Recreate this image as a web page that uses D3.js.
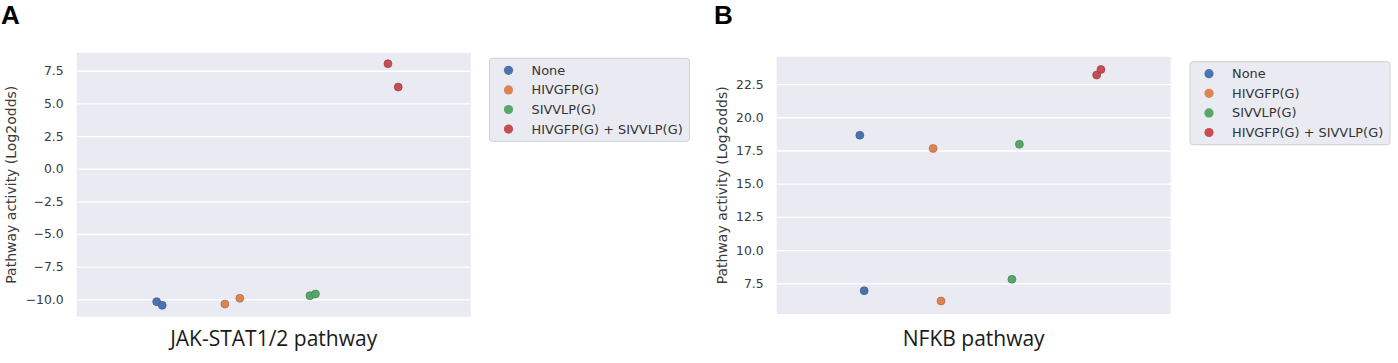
<!DOCTYPE html>
<html>
<head>
<meta charset="utf-8">
<script src="https://cdn.jsdelivr.net/npm/d3@7"></script>
<style>
  body { margin: 0; background: #fff; }
  .tick text { font-family: "DejaVu Sans", sans-serif; fill: #3a3a3a; }
</style>
</head>
<body>
<svg id="fig" width="1398" height="363"></svg>
<script>
// ----- data -----
const hues = ["None", "HIVGFP(G)", "SIVVLP(G)", "HIVGFP(G) + SIVVLP(G)"];
const hueColors = ["#4C72B0", "#DD8452", "#55A868", "#C44E52"];

// two samples per hue, per pathway
const jakValues = [[-10.18, -10.46], [-10.36, -9.92], [-9.72, -9.59], [8.04, 6.25]];
const jakJitter = [[0.003, 0.017], [-0.024, 0.014], [-0.008, 0.006], [-0.010, 0.016]];
const jakTicks = [-10, -7.5, -5, -2.5, 0, 2.5, 5, 7.5];

const nfkbValues = [[18.65, 6.94], [17.65, 6.17], [17.97, 7.80], [23.18, 23.60]];
const nfkbJitter = [[0.011, 0.022], [-0.003, 0.017], [0.016, -0.003], [0.012, 0.023]];
const nfkbTicks = [7.5, 10, 12.5, 15, 17.5, 20, 22.5];

const yLabel = "Pathway activity (Log2odds)";

const svg = d3.select("svg#fig");

function panel(opts) {
    const w = 394, h = opts.height;
    const g = svg.append("g")
        .attr("transform", "translate(" + opts.left + "," + opts.top + ")");

    // panel letter
    svg.append("text")
        .attr("x", opts.letterX).attr("y", 24)
        .attr("font-family", "Liberation Sans, Arial, sans-serif")
        .attr("font-weight", "bold")
        .attr("font-size", 26)
        .text(opts.letter);

    g.append("rect")
        .attr("width", w).attr("height", h)
        .attr("fill", "#EAEAF2");

    const y = d3.scaleLinear().domain(opts.domain).range([h, 0]);
    const x = d3.scaleBand().domain([opts.name]).range([0, w]);
    const hx = d3.scaleBand().domain(hues)
        .range([x(opts.name) + 0.1 * x.bandwidth(), x(opts.name) + 0.9 * x.bandwidth()]);

    const yAxis = d3.axisLeft(y)
        .tickValues(opts.ticks)
        .tickFormat(d3.format(".1f"))
        .tickSize(-w)
        .tickPadding(13);

    const ax = g.append("g").call(yAxis);
    ax.select(".domain").remove();
    ax.selectAll(".tick line").attr("stroke", "#fff").attr("stroke-width", 1.3);
    ax.selectAll(".tick text").attr("font-size", 12.4);

    // points
    const pts = [];
    opts.values.forEach((vals, i) => {
        vals.forEach((v, j) => pts.push({hue: hues[i], color: hueColors[i], v: v, jit: opts.jitter[i][j]}));
    });
    g.selectAll("circle.pt")
        .data(pts)
        .join("circle")
        .attr("class", "pt")
        .attr("cx", d => hx(d.hue) + hx.bandwidth() / 2 + d.jit * x.bandwidth())
        .attr("cy", d => y(d.v))
        .attr("r", 4)
        .attr("fill", d => d.color)
        .attr("stroke", d => d3.color(d.color).darker(0.8))
        .attr("stroke-width", 0.6);

    // axis titles
    svg.append("text")
        .attr("transform", "translate(" + opts.yLabelX + "," + (opts.top + h / 2) + ") rotate(-90)")
        .attr("text-anchor", "middle")
        .attr("font-family", "DejaVu Sans, sans-serif")
        .attr("font-size", 14)
        .attr("fill", "#3a3a3a")
        .text(yLabel);

    svg.append("text")
        .attr("x", opts.left + w / 2).attr("y", 346)
        .attr("text-anchor", "middle")
        .attr("font-family", "Open Sans, sans-serif")
        .attr("font-size", 21)
        .attr("fill", "#1a1a1a")
        .text(opts.name);

    // legend
    const lg = svg.append("g")
        .attr("transform", "translate(" + opts.legendX + "," + opts.legendY + ")");
    lg.append("rect")
        .attr("width", 200).attr("height", 83)
        .attr("rx", 3)
        .attr("fill", "#EAEAF2")
        .attr("stroke", "#cfcfd6");
    const row = lg.selectAll("g.row")
        .data(hues)
        .join("g")
        .attr("class", "row")
        .attr("transform", (d, i) => "translate(0," + (12 + i * 19.6) + ")");
    row.append("circle")
        .attr("cx", 19).attr("r", 4.6)
        .attr("fill", (d, i) => hueColors[i]);
    row.append("text")
        .attr("x", 42).attr("y", 4.5)
        .attr("font-family", "DejaVu Sans, sans-serif")
        .attr("font-size", 12.9)
        .attr("fill", "#333")
        .text(d => d);
}

panel({letter: "A", letterX: 1, name: "JAK-STAT1/2 pathway",
       left: 76.7, top: 52.7, height: 264, domain: [-11.33, 8.88],
       values: jakValues, jitter: jakJitter, ticks: jakTicks,
       yLabelX: 16, legendX: 489.5, legendY: 58.3});

panel({letter: "B", letterX: 714, name: "NFKB pathway",
       left: 776.7, top: 56.7, height: 257.3, domain: [5.19, 24.56],
       values: nfkbValues, jitter: nfkbJitter, ticks: nfkbTicks,
       yLabelX: 727, legendX: 1190, legendY: 61.7});
</script>
</body>
</html>
